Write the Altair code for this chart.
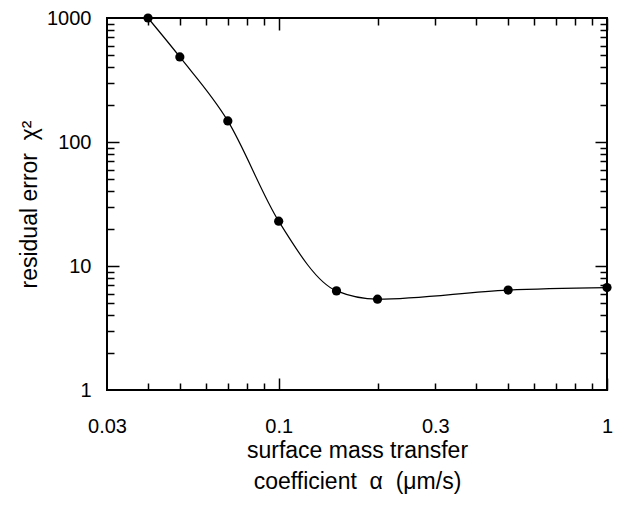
import altair as alt
import pandas as pd

# data
alpha = [0.04, 0.05, 0.07, 0.10, 0.15, 0.20, 0.50, 1.00]
chi2 = [1000, 485, 148, 23, 6.3, 5.4, 6.4, 6.7]

x_labels = [0.03, 0.1, 0.3, 1]
x_major = [0.1, 1]
x_minor = [0.04, 0.05, 0.06, 0.07, 0.08, 0.09, 0.2, 0.3, 0.4, 0.5, 0.6, 0.7, 0.8, 0.9]
y_labels = [1, 10, 100, 1000]
y_major = [10, 100]
y_minor = [2, 3, 4, 5, 6, 7, 8, 9, 20, 30, 40, 50, 60, 70, 80, 90,
           200, 300, 400, 500, 600, 700, 800, 900]

df = pd.DataFrame({"alpha": alpha, "chi2": chi2})

FONT = "Liberation Sans"
XDOM = [0.03, 1]
YDOM = [1, 1000]


def xs(axis):
    return alt.X("alpha:Q", scale=alt.Scale(type="log", domain=XDOM, nice=False), axis=axis)


def ys(axis):
    return alt.Y("chi2:Q", scale=alt.Scale(type="log", domain=YDOM, nice=False), axis=axis)


def tick_axis(orient, values, length):
    return alt.Axis(orient=orient, values=values, offset=-length, tickSize=length,
                    tickWidth=1.5, tickColor="black", labels=False, domain=False,
                    grid=False, title=None)


x_label_axis = alt.Axis(orient="bottom", values=x_labels, format="~g", ticks=False, tickSize=0,
                        domain=False, grid=False, labelPadding=26, labelFont=FONT,
                        labelFontSize=20, labelColor="black", labelFlush=False,
                        labelOverlap=False,
                        title=["surface mass transfer",
                               "coefficient\u00a0\u00a0\u03b1\u00a0\u00a0(\u03bcm/s)"],
                        titleFont=FONT, titleFontSize=23, titleFontWeight="normal",
                        titleColor="black", titlePadding=3, titleLineHeight=31)
y_label_axis = alt.Axis(orient="left", values=y_labels, format="~g", ticks=False, tickSize=0,
                        domain=False, grid=False, labelPadding=16, labelFont=FONT,
                        labelFontSize=20, labelColor="black", labelFlush=False,
                        labelOverlap=False, labelBaseline="middle",
                        title="residual error\u00a0\u00a0\u03c7\u00b2", titleFont=FONT,
                        titleFontSize=23, titleFontWeight="normal", titleColor="black",
                        titlePadding=5)

line = alt.Chart(df).mark_line(color="black", strokeWidth=1.2, interpolate="monotone").encode(
    x=xs(x_label_axis), y=ys(y_label_axis))

points = alt.Chart(df).mark_circle(color="black", size=85, opacity=1).encode(
    x=xs(tick_axis("bottom", x_major, 12)), y=ys(tick_axis("left", y_major, 12)))

hidden1 = alt.Chart(df).mark_circle(opacity=0).encode(
    x=xs(tick_axis("bottom", x_minor, 7)), y=ys(tick_axis("left", y_minor, 7)))

hidden2 = alt.Chart(df).mark_circle(opacity=0).encode(
    x=xs(tick_axis("top", x_major, 12)), y=ys(tick_axis("right", y_major, 12)))

hidden3 = alt.Chart(df).mark_circle(opacity=0).encode(
    x=xs(tick_axis("top", x_minor, 7)), y=ys(tick_axis("right", y_minor, 7)))

chart = alt.layer(line, points, hidden1, hidden2, hidden3).resolve_scale(
    x="independent", y="independent"
).properties(
    width=500, height=372,
    autosize=alt.AutoSizeParams(type="none"),
    padding={"left": 99, "top": 10, "right": 7, "bottom": 108},
).configure_view(stroke="black", strokeWidth=2)

chart.save("out.html", embed_options={"renderer": "svg", "actions": False})
